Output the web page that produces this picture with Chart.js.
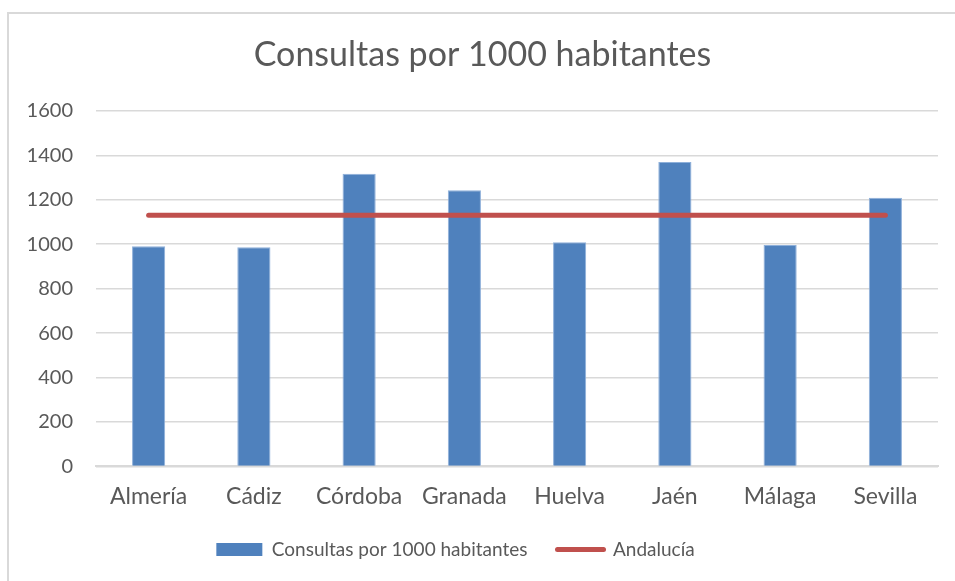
<!DOCTYPE html>
<html>
<head>
<meta charset="utf-8">
<script src="https://cdn.jsdelivr.net/npm/chart.js@4"></script>
<style>
  html, body { margin: 0; padding: 0; background: #fff; overflow: hidden; }
  #wrap { position: relative; width: 955px; height: 581px; }
  #frame { position: absolute; left: 7px; top: 12px; width: 980px; height: 620px;
           border: 2px solid #d9d9d9; box-sizing: border-box; }
  canvas { position: absolute; left: 0; top: 0; }
</style>
</head>
<body>
<div id="wrap">
  <div id="frame"></div>
  <canvas id="chart" width="955" height="581"></canvas>
</div>
<script>
const provincias = ["Almería", "Cádiz", "Córdoba", "Granada", "Huelva", "Jaén", "Málaga", "Sevilla"];
const consultas = [990, 986, 1317, 1242, 1008, 1370, 996, 1209];
const andalucia = [1130, 1130, 1130, 1130, 1130, 1130, 1130, 1130];
const yTicks = [0, 200, 400, 600, 800, 1000, 1200, 1400, 1600];

const gris = '#595959';
const fuente = 'Lato, "Open Sans", sans-serif';

Chart.defaults.font.family = fuente;
Chart.defaults.color = gris;

// la leyenda del original no está centrada en el gráfico, sino algo a la izquierda
const moverLeyenda = {
  id: 'moverLeyenda',
  afterLayout(chart) {
    chart.legend.left -= 27;
    chart.legend.right -= 27;
  }
};

new Chart(document.getElementById('chart'), {
  type: 'bar',
  data: {
    labels: provincias,
    datasets: [
      {
        type: 'line',
        label: 'Andalucía',
        data: andalucia,
        borderColor: '#c0504d',
        backgroundColor: '#c0504d',
        borderWidth: 5,
        borderCapStyle: 'round',
        pointRadius: 0,
        order: 0
      },
      {
        label: 'Consultas por 1000 habitantes',
        data: consultas,
        backgroundColor: '#4f81bd',
        borderColor: '#8eb0da',
        borderWidth: 1,
        barPercentage: 0.315,
        categoryPercentage: 1,
        order: 1
      }
    ]
  },
  plugins: [moverLeyenda],
  options: {
    responsive: false,
    animation: false,
    layout: { padding: { left: 27, right: 17, top: 35, bottom: 12 } },
    plugins: {
      title: {
        display: true,
        text: 'Consultas por 1000 habitantes',
        color: gris,
        font: { size: 34, weight: 'normal' },
        padding: { top: 0, bottom: 35 }
      },
      legend: {
        position: 'bottom',
        reverse: true,
        labels: {
          color: gris,
          font: { size: 19 },
          usePointStyle: true,
          pointStyleWidth: 46,
          boxHeight: 13,
          padding: 30,
          generateLabels(chart) {
            return chart.data.datasets.map((ds, i) => ({
              text: ds.label,
              datasetIndex: i,
              fillStyle: ds.backgroundColor,
              strokeStyle: ds.type === 'line' ? ds.borderColor : ds.backgroundColor,
              lineWidth: ds.type === 'line' ? 5 : 0,
              lineCap: 'round',
              pointStyle: ds.type === 'line' ? 'line' : 'rect',
              fontColor: gris
            }));
          }
        }
      },
      tooltip: { enabled: false }
    },
    scales: {
      x: {
        grid: { display: false, drawTicks: false },
        border: { display: true, color: '#d9d9d9', width: 2 },
        ticks: { color: gris, font: { size: 23 }, padding: 16 },
        afterFit(axis) { axis.height -= 16; }
      },
      y: {
        min: 0,
        max: 1600,
        afterBuildTicks(axis) { axis.ticks = yTicks.map(v => ({ value: v })); },
        afterFit(axis) { axis.width = 69; },
        grid: { color: '#d9d9d9', lineWidth: 1.5, drawTicks: false },
        border: { display: false },
        ticks: { color: gris, font: { size: 20 }, padding: 23, callback: v => String(v) }
      }
    }
  }
});
</script>
</body>
</html>
